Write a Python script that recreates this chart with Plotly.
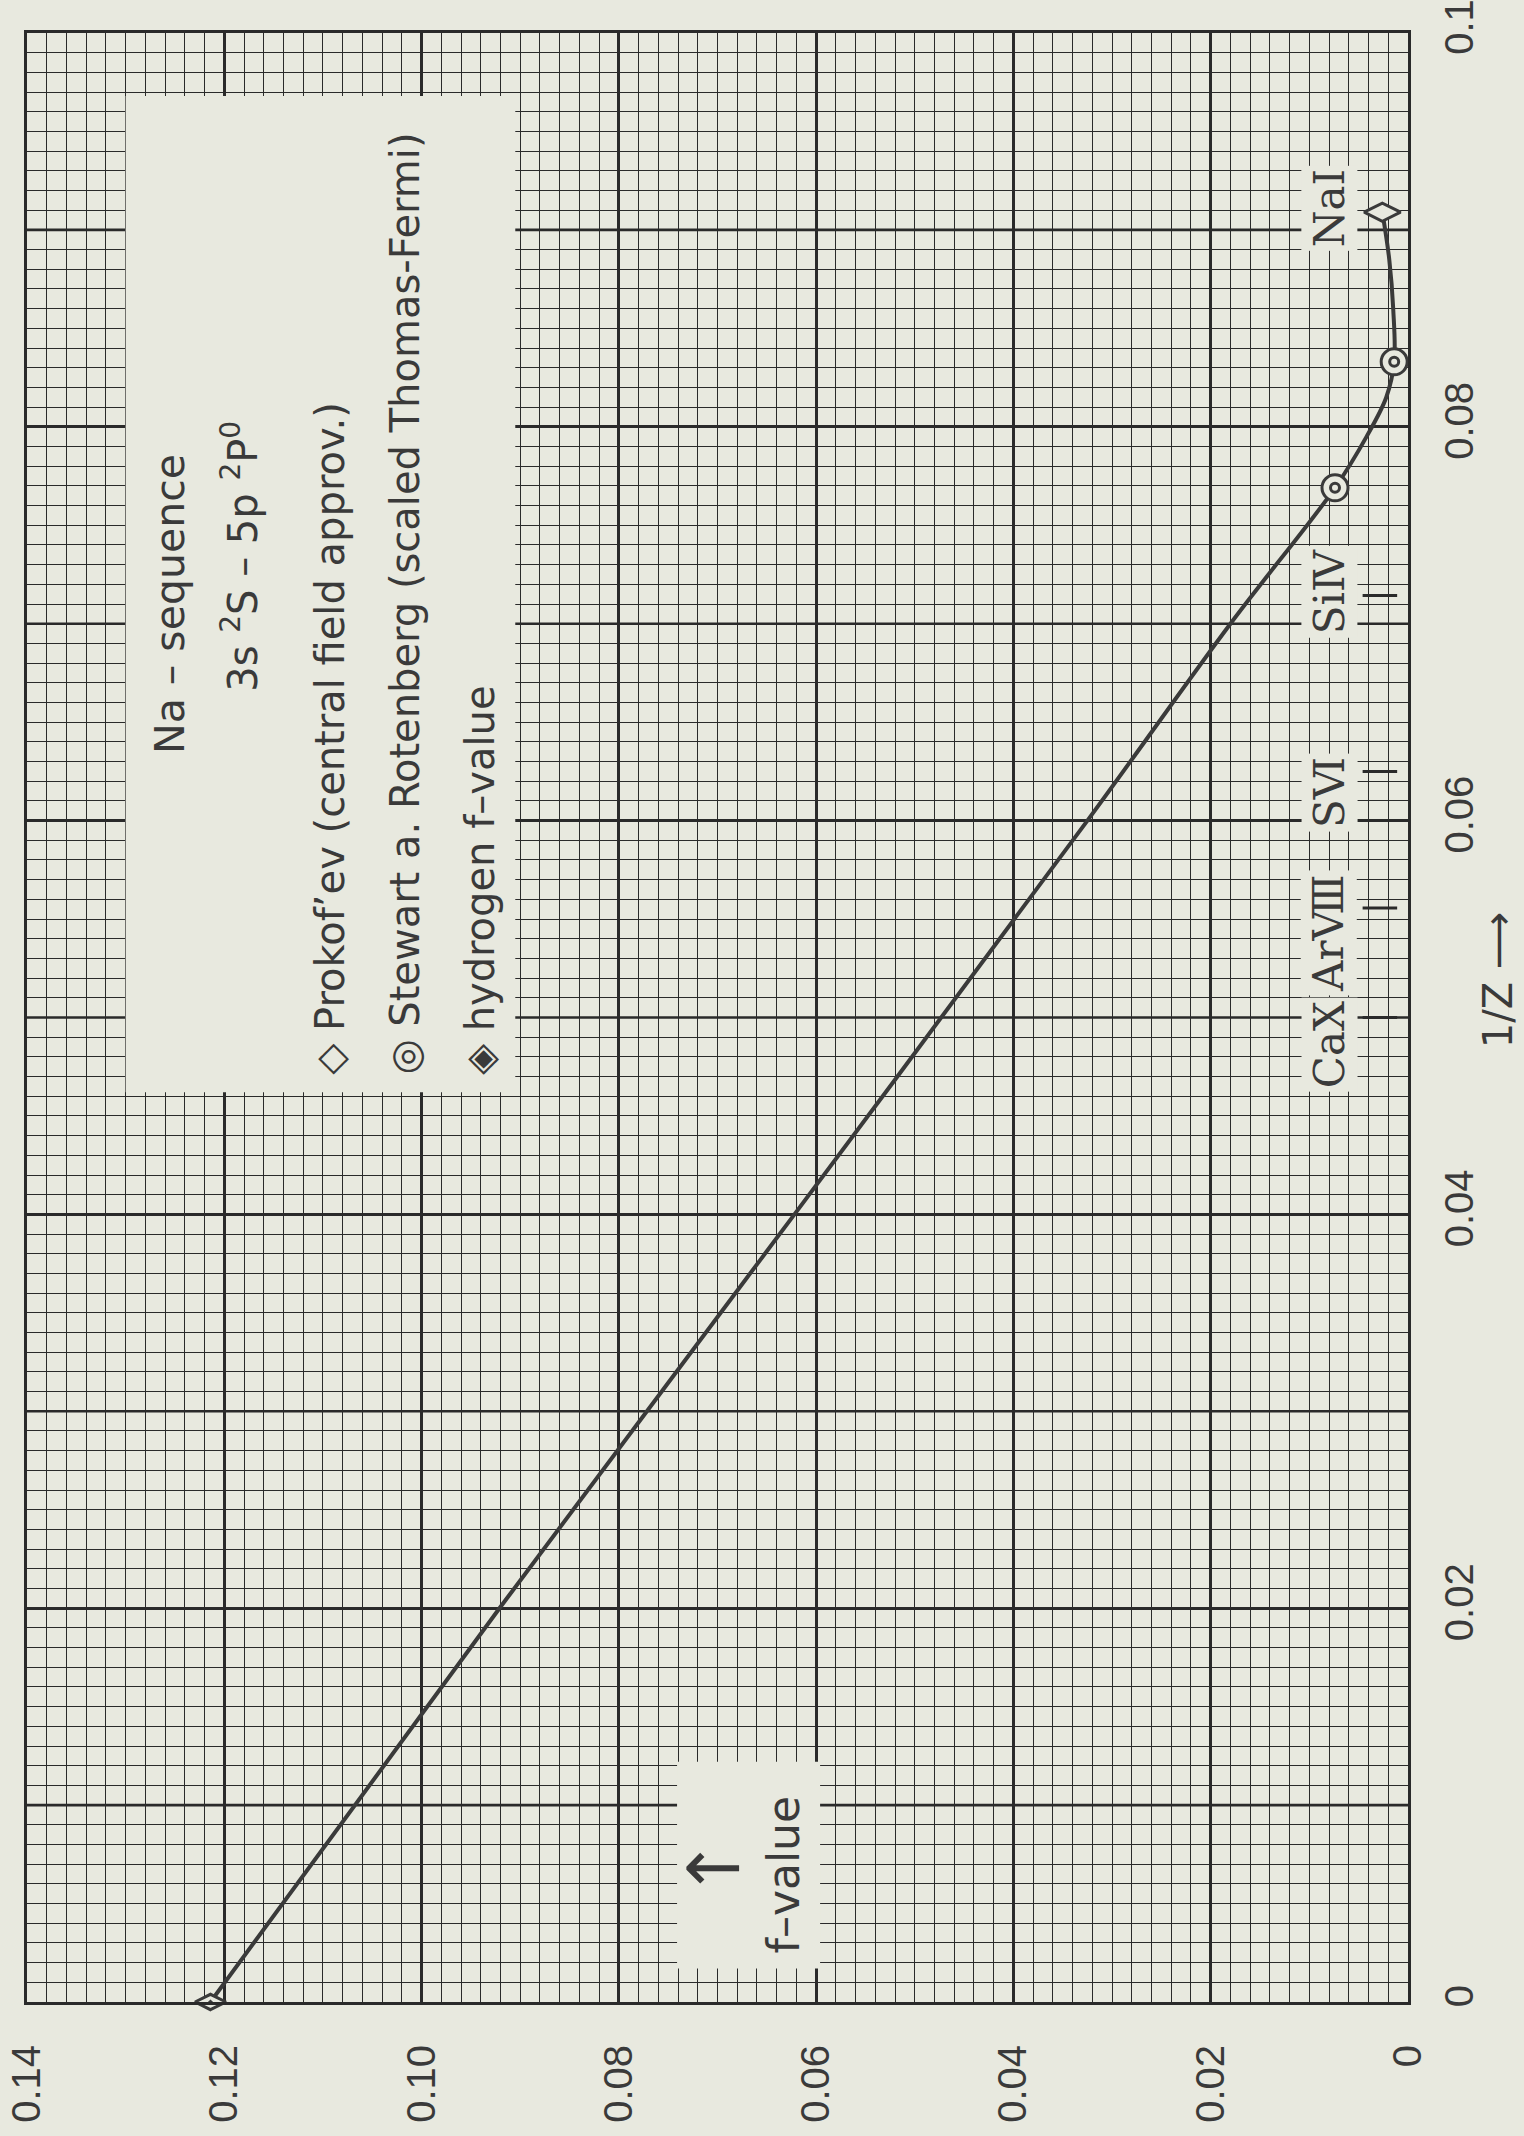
import plotly.graph_objects as go

# ---------------- data ----------------
# f-value (horizontal, increasing to the left) vs 1/Z (vertical)
curve_f = [0.1214, 0.0921, 0.0622, 0.0325, 0.0180, 0.0074, 0.0042, 0.0022,
           0.0014, 0.0015, 0.0019, 0.0026]
curve_invz = [0.0, 0.020, 0.040, 0.060, 0.070, 0.0769, 0.0795, 0.0815,
              0.0833, 0.0860, 0.0885, 0.0909]

prokofev_f = [0.0026]
prokofev_invz = [0.0909]

stewart_f = [0.0074, 0.0014]
stewart_invz = [0.0769, 0.0833]

hydrogen_f = [0.1214]
hydrogen_invz = [0.0]

ion_labels = ["Ca\u2169", "Ar\u2167", "S\u2165", "Si\u2163", "Na\u2160"]
ion_Z = [20, 18, 16, 14, 11]

x_tickvals = [0, 0.02, 0.04, 0.06, 0.08, 0.10, 0.12, 0.14]
x_ticktext = ["0", "0.02", "0.04", "0.06", "0.08", "0.10", "0.12", "0.14"]
y_tickvals = [0, 0.02, 0.04, 0.06, 0.08, 0.10]
y_ticktext = ["0", "0.02", "0.04", "0.06", "0.08", "0.1"]
y_midgrid = [0.01, 0.03, 0.05, 0.07, 0.09]

# ---------------- style ----------------
BG = "#e8e9df"
INK = "#2a2a2a"
TXT = "#3a3a3a"
SANS = "DejaVu Sans"

fig = go.Figure()

fig.add_trace(go.Scatter(
    x=curve_f, y=curve_invz, mode="lines",
    line=dict(color=TXT, width=4, shape="spline", smoothing=1.0),
    cliponaxis=False, hoverinfo="skip"))

fig.add_trace(go.Scatter(
    x=hydrogen_f, y=hydrogen_invz, mode="markers",
    marker=dict(symbol="diamond-wide-dot", size=22, color=BG,
                line=dict(color=TXT, width=3)),
    cliponaxis=False))

fig.add_trace(go.Scatter(
    x=prokofev_f, y=prokofev_invz, mode="markers",
    marker=dict(symbol="diamond-wide", size=26, color=BG,
                line=dict(color=TXT, width=3)),
    cliponaxis=False))

fig.add_trace(go.Scatter(
    x=stewart_f, y=stewart_invz, mode="markers",
    marker=dict(symbol="circle", size=26, color=BG,
                line=dict(color=TXT, width=3)),
    cliponaxis=False))
fig.add_trace(go.Scatter(
    x=stewart_f, y=stewart_invz, mode="markers",
    marker=dict(symbol="circle", size=9, color=BG,
                line=dict(color=TXT, width=3)),
    cliponaxis=False))

shapes = []
annotations = []

# thick grid lines at the odd 0.01 steps of 1/Z
for yv in y_midgrid:
    shapes.append(dict(type="line", xref="paper", yref="y", x0=0, x1=1,
                       y0=yv, y1=yv, line=dict(color=INK, width=2.6),
                       layer="below"))

# legend box (clears the grid)
shapes.append(dict(type="rect", xref="x", yref="y", x0=0.1300, x1=0.0905,
                   y0=0.0462, y1=0.0968, fillcolor=BG, line=dict(width=0),
                   layer="above"))
# f-value box
shapes.append(dict(type="rect", xref="x", yref="y", x0=0.0741, x1=0.0596,
                   y0=0.0017, y1=0.0122, fillcolor=BG, line=dict(width=0),
                   layer="above"))

# ion position marks at the right edge
for z in ion_Z[:-1]:
    shapes.append(dict(type="line", xref="x", yref="y", x0=0.0046, x1=0.0011,
                       y0=1.0 / z, y1=1.0 / z, line=dict(color=INK, width=3),
                       layer="above"))

legend_font = dict(family=SANS, size=40, color=TXT)

annotations.append(dict(x=0.1255, y=0.0710, xref="x", yref="y",
                        text="Na \u2013 sequence", textangle=-90,
                        showarrow=False, font=dict(family=SANS, size=41, color=TXT),
                        xanchor="center", yanchor="middle"))
annotations.append(dict(x=0.1184, y=0.0734, xref="x", yref="y",
                        text="3s <sup>2</sup>S \u2013 5p <sup>2</sup>P<sup>0</sup>",
                        textangle=-90, showarrow=False, font=legend_font,
                        xanchor="center", yanchor="middle"))
legend_lines = [
    (0.1093, "\u25c7 Prokof\u2019ev (central field approv.)"),
    (0.1017, "\u25ce Stewart a. Rotenberg (scaled Thomas-Fermi)"),
    (0.0941, "\u25c8 hydrogen f\u2013value"),
]
for xf, txt in legend_lines:
    annotations.append(dict(x=xf, y=0.0470, xref="x", yref="y", text=txt,
                            textangle=-90, showarrow=False, font=legend_font,
                            xanchor="center", yanchor="bottom"))

# ion labels
label_pos = [0.0486, 0.0543, 0.0614, 0.0716, 0.0911]
for lab, yp in zip(ion_labels, label_pos):
    annotations.append(dict(x=0.0080, y=yp, xref="x", yref="y", text=lab,
                            textangle=-90, showarrow=False,
                            font=dict(family="DejaVu Serif", size=42, color=TXT),
                            bgcolor=BG, borderpad=3,
                            xanchor="center", yanchor="middle"))

# f-value label with its arrow (arrow points toward larger f)
annotations.append(dict(x=0.0634, y=0.00645, xref="x", yref="y",
                        text="f\u2013value", textangle=-90, showarrow=False,
                        font=dict(family=SANS, size=44, color=TXT),
                        xanchor="center", yanchor="middle"))
annotations.append(dict(x=0.0705, y=0.0069, xref="x", yref="y",
                        text="\u2190", textangle=0, showarrow=False,
                        font=dict(family=SANS, size=72, color=TXT),
                        xanchor="center", yanchor="middle"))

# axis title 1/Z
annotations.append(dict(x=1.0652, y=0.519, xref="paper", yref="paper",
                        text="1/Z \u27f6", textangle=-90, showarrow=False,
                        font=dict(family=SANS, size=40, color=TXT),
                        xanchor="center", yanchor="middle"))

tickfont = dict(family="Liberation Sans", size=40, color=TXT)

fig.update_layout(
    width=1524, height=2136,
    margin=dict(l=27, r=116, t=33, b=134, autoexpand=False),
    paper_bgcolor=BG, plot_bgcolor=BG,
    showlegend=False,
    shapes=shapes, annotations=annotations,
    xaxis=dict(range=[0.14, 0], tickmode="array", tickvals=x_tickvals,
               ticktext=x_ticktext, tickangle=-90, tickfont=tickfont,
               ticks="", ticklabelstandoff=24, automargin=False,
               ticklabeloverflow="allow",
               showgrid=True, gridcolor=INK, gridwidth=2.6,
               minor=dict(tickmode="linear", tick0=0, dtick=0.002,
                          showgrid=True, gridcolor=INK, gridwidth=1.2),
               showline=True, mirror=True, linecolor=INK, linewidth=3,
               zeroline=False, fixedrange=True),
    yaxis=dict(range=[0, 0.10], side="right", tickmode="array",
               tickvals=y_tickvals, ticktext=y_ticktext, tickangle=-90,
               tickfont=tickfont, ticks="", ticklabelstandoff=14,
               automargin=False, ticklabeloverflow="allow",
               showgrid=True, gridcolor=INK, gridwidth=2.6,
               minor=dict(tickmode="linear", tick0=0, dtick=0.001,
                          showgrid=True, gridcolor=INK, gridwidth=1.2),
               showline=True, mirror=True, linecolor=INK, linewidth=3,
               zeroline=False, fixedrange=True),
)

# remove the page's default 8px body margin so the figure fills the window
fig.write_html("out.html",
               config={"displayModeBar": False, "displaylogo": False},
               post_script="document.body.style.margin='0';"
                           "document.body.style.background='%s';" % BG)
